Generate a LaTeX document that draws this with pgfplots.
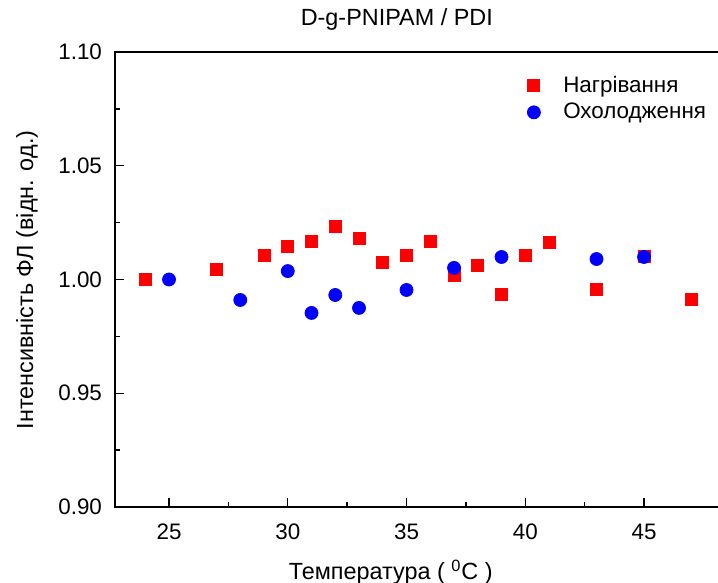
\documentclass[border=0pt]{standalone}
\usepackage{fontspec}
\setmainfont{Liberation Sans}
\usepackage{pgfplots}
\pgfplotsset{compat=1.18}
\begin{document}
\begin{tikzpicture}
\begin{axis}[
  at={(0,0)}, anchor=south west,
  scale only axis,
  width=303bp, height=227.5bp,
  xmin=22.726, xmax=48.24,
  ymin=0.90, ymax=1.10,
  xtick={25,30,35,40,45},
  ytick={0.90,0.95,1.00,1.05,1.10},
  minor x tick num=1,
  minor y tick num=1,
  tick align=inside,
  xtick pos=bottom, ytick pos=left,
  major tick length=4.5bp, minor tick length=2.5bp,
  axis line style={line width=0.7bp},
  every tick/.style={black, line width=0.7bp},
  /pgf/number format/assume math mode=true,
  yticklabel style={/pgf/number format/fixed, /pgf/number format/fixed zerofill, /pgf/number format/precision=2, font=\fontsize{11.2bp}{13bp}\selectfont, xshift=-3bp},
  xticklabel style={font=\fontsize{11.2bp}{13bp}\selectfont, yshift=-5bp},
  title={D-g-PNIPAM / PDI},
  title style={at={(axis description cs:0.465,1.046)}, anchor=center, font=\fontsize{11.7bp}{14bp}\selectfont},
  xlabel={Температура ( \textsuperscript{0}C )},
  ylabel={Інтенсивність ФЛ (відн. од.)},
  xlabel style={at={(axis description cs:0.455,-0.143)}, anchor=center, font=\fontsize{11.7bp}{14bp}\selectfont},
  ylabel style={at={(axis description cs:-0.145,0.499)}, anchor=center, rotate=0, font=\fontsize{11.7bp}{14bp}\selectfont},
  legend style={draw=none, fill=none, at={(axis description cs:0.67,0.966)}, anchor=north west, font=\fontsize{11.2bp}{13bp}\selectfont, row sep=0bp},
  legend cell align=left,
  legend image code/.code={\draw[mark repeat=2,mark phase=2,#1] plot coordinates {(0cm,0cm)(0.3cm,0cm)(0.6cm,0cm)}; \path (21bp,0pt);},
]
\addplot[only marks, mark=square*, mark size=3bp, color=red, fill=red] coordinates {
(24,1.000) (27,1.0046) (29,1.0108) (30,1.0147) (31,1.0169) (32,1.0235) (33,1.0182)
(34,1.0077) (35,1.0108) (36,1.0169) (37,1.002) (38,1.0064) (39,0.9936) (40,1.0108)
(41,1.0165) (43,0.9958) (45,1.0103) (47,0.9914)
};
\addlegendentry{Нагрівання}
\addplot[only marks, mark=*, mark size=3.25bp, color=blue, fill=blue] coordinates {
(25,1.000) (28,0.991) (30,1.0037) (31,0.9853) (32,0.9932) (33,0.9875) (35,0.9954)
(37,1.0051) (39,1.0099) (43,1.009) (45,1.0099)
};
\addlegendentry{Охолодження}
\end{axis}
\pgfresetboundingbox
\path[use as bounding box] (-57.5bp,-38bp) rectangle (301.5bp,253.5bp);
\end{tikzpicture}
\end{document}
